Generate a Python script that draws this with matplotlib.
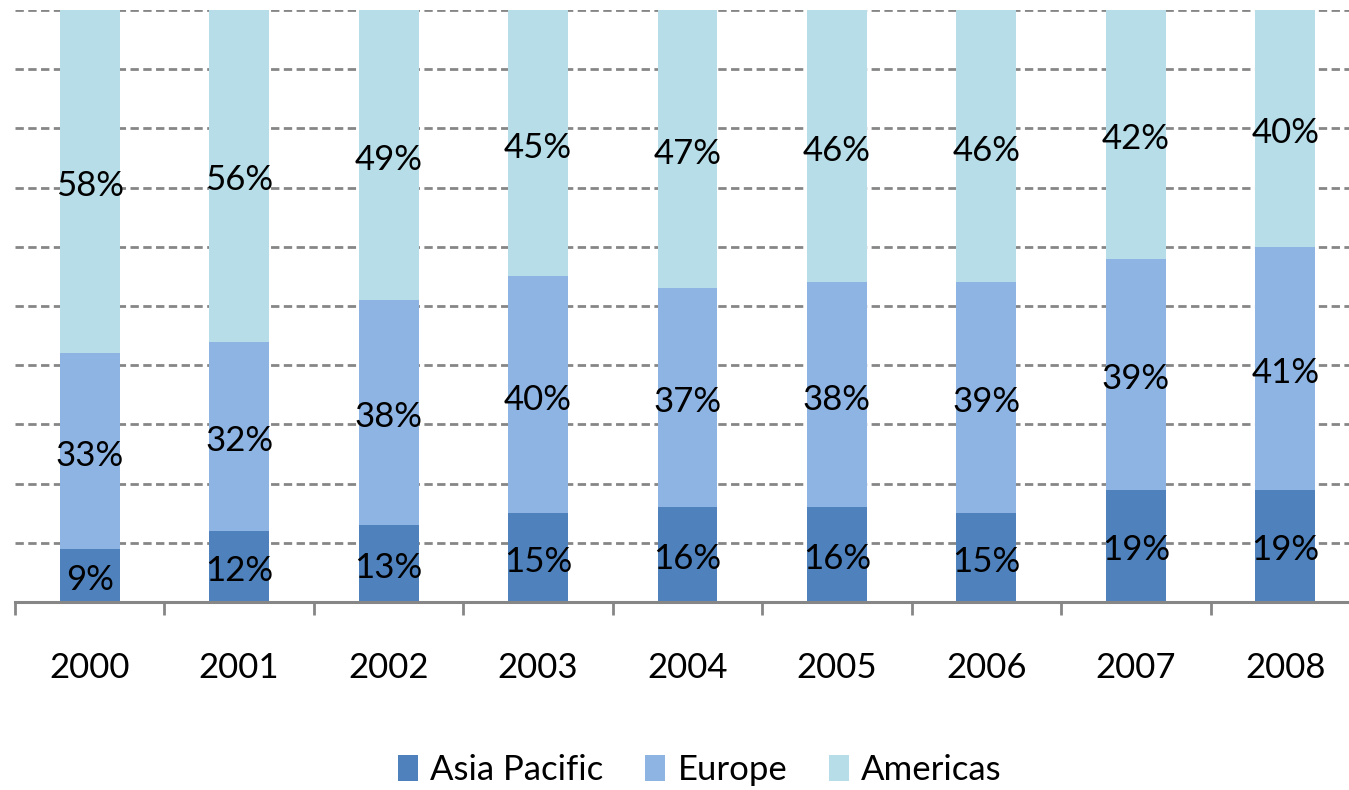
import matplotlib
matplotlib.use("Agg")
import matplotlib.pyplot as plt
from matplotlib.patches import Patch
import numpy as np

years = ["2000", "2001", "2002", "2003", "2004", "2005", "2006", "2007", "2008"]
asia_pacific = [9, 12, 13, 15, 16, 16, 15, 19, 19]
europe = [33, 32, 38, 40, 37, 38, 39, 39, 41]
americas = [58, 56, 49, 45, 47, 46, 46, 42, 40]

series = [("Asia Pacific", asia_pacific, "#4F81BD"),
          ("Europe", europe, "#8EB4E3"),
          ("Americas", americas, "#B7DDE8")]

plt.rcParams["font.family"] = ["Lato", "DejaVu Sans"]

W, H = 1349, 790
fig = plt.figure(figsize=(W / 100, H / 100), dpi=100)
# axes spans past the right edge of the canvas
ax = fig.add_axes([15 / W, 1 - 602 / H, (1360 - 15) / W, (602 - 10) / H])

x = np.arange(len(years))
bottom = np.zeros(len(years))
for name, vals, color in series:
    vals = np.array(vals, dtype=float)
    ax.bar(x, vals, width=0.4, bottom=bottom, color=color, zorder=2)
    for xi, b, v in zip(x, bottom, vals):
        ax.text(xi, b + v / 2 - 0.8, f"{int(v)}%", ha="center", va="center",
                fontsize=25, color="black", zorder=3)
    bottom += vals

ax.set_xlim(-0.5, len(years) - 0.5)
ax.set_ylim(0, 100)
ax.set_yticks(np.arange(10, 101, 10))
ax.yaxis.grid(True, linestyle=(0, (3, 1.6)), color="#868686", linewidth=2, zorder=0)
ax.tick_params(axis="y", left=False, labelleft=False)

for s in ["top", "right", "left"]:
    ax.spines[s].set_visible(False)
ax.spines["bottom"].set_color("#868686")
ax.spines["bottom"].set_linewidth(2.2)
ax.spines["bottom"].set_zorder(4)

ax.set_xticks(np.arange(-0.5, len(years), 1.0))
ax.set_xticklabels([])
ax.tick_params(axis="x", which="major", length=9, width=2, color="#868686")
ax.set_xticks(x, minor=True)
ax.set_xticklabels(years, minor=True, fontsize=25)
ax.tick_params(axis="x", which="minor", length=0, pad=36)

handles = [Patch(facecolor=c, label=n) for n, _, c in series]
fig.legend(handles=handles, loc="center", bbox_to_anchor=(700 / W, 1 - 770 / H),
           ncol=3, frameon=False, fontsize=25, handlelength=0.58, handleheight=0.75,
           handletextpad=0.35, columnspacing=1.2)

fig.savefig("out.png", dpi=100)
